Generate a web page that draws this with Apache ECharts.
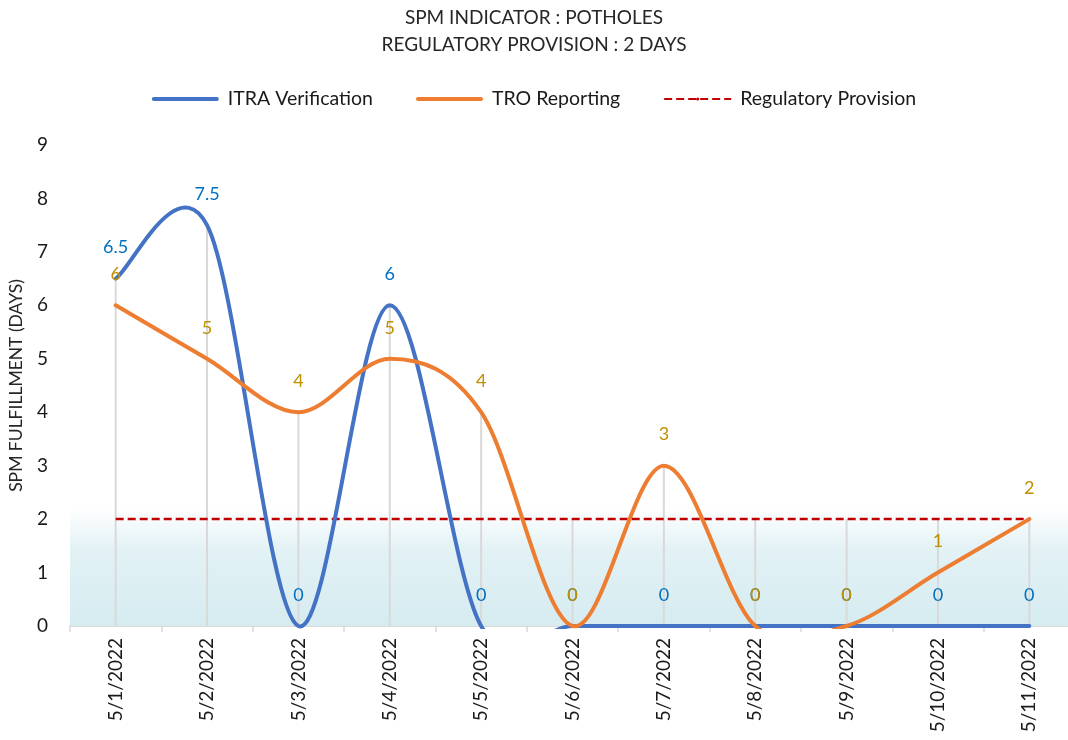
<!DOCTYPE html>
<html>
<head>
<meta charset="utf-8">
<title>SPM Indicator : Potholes</title>
<script src="https://cdn.jsdelivr.net/npm/echarts@6/dist/echarts.min.js"></script>
<style>
  html, body { margin: 0; padding: 0; background: #fff; }
  #chart { width: 1068px; height: 740px; }
</style>
</head>
<body>
<div id="chart"></div>
<script>
// data
const dates = ["5/1/2022", "5/2/2022", "5/3/2022", "5/4/2022", "5/5/2022", "5/6/2022",
  "5/7/2022", "5/8/2022", "5/9/2022", "5/10/2022", "5/11/2022"];
const itraVerification = [6.5, 7.5, 0, 6, 0, 0, 0, 0, 0, 0, 0];
const troReporting = [6, 5, 4, 5, 4, 0, 3, 0, 0, 1, 2];
const regulatoryProvision = [2, 2, 2, 2, 2, 2, 2, 2, 2, 2, 2];
const yMin = 0, yMax = 9, yStep = 1;
const bandTop = 2.2;

// drop lines go up to the highest value of every series at that date
const dropLines = dates.map((d, i) =>
  Math.max(itraVerification[i], troReporting[i], regulatoryProvision[i]));

const font = "Lato, 'Open Sans', sans-serif";

// excel style smoothed line (catmull-rom through the points), drawn on the axes
function smoothLine(name, values, color, labelColor) {
  return {
    name: name,
    type: "custom",
    clip: false,
    z: 4,
    color: color,
    itemStyle: { color: color },
    encode: { x: 0, y: 1 },
    data: values.map((v, i) => [i, v]),
    renderItem: function(params, api) {
      let children = [];
      if (params.dataIndex === 0) {
        let cs = params.coordSys;
        let pts = values.map((v, i) => api.coord([i, v]));
        let n = pts.length;
        let d = "M" + pts[0][0] + " " + pts[0][1];
        for (let i = 0; i < n - 1; i++) {
          let p0 = pts[Math.max(i - 1, 0)];
          let p1 = pts[i];
          let p2 = pts[i + 1];
          let p3 = pts[Math.min(i + 2, n - 1)];
          let c1x = p1[0] + (p2[0] - p0[0]) / 6;
          let c1y = p1[1] + (p2[1] - p0[1]) / 6;
          let c2x = p2[0] - (p3[0] - p1[0]) / 6;
          let c2y = p2[1] - (p3[1] - p1[1]) / 6;
          d += " C" + c1x + " " + c1y + " " + c2x + " " + c2y + " " + p2[0] + " " + p2[1];
        }
        children.push({
          type: "path",
          shape: { pathData: d },
          // plot area plus a few px so the line lying on zero keeps its full width
          clipPath: { type: "rect", shape: { x: cs.x, y: cs.y, width: cs.width, height: cs.height + 3 } },
          style: { fill: "none", stroke: color, lineWidth: 4, lineCap: "round", lineJoin: "round" }
        });
      }
      let p = api.coord([api.value(0), api.value(1)]);
      children.push({
        type: "text",
        x: p[0],
        y: p[1] - 31,
        z2: 10,
        style: {
          text: String(api.value(1)),
          fill: labelColor,
          font: "18px " + font,
          align: "center",
          verticalAlign: "middle"
        }
      });
      return { type: "group", children: children };
    }
  };
}

let chart = echarts.init(document.getElementById("chart"));

let option = {
  animation: false,
  title: {
    left: "center",
    top: -1,
    text: "SPM INDICATOR : POTHOLES\nREGULATORY PROVISION : 2 DAYS",
    textStyle: {
      fontFamily: font,
      fontSize: 19,
      fontWeight: "normal",
      color: "#262626",
      lineHeight: 27
    }
  },
  legend: {
    top: 84,
    left: "center",
    itemWidth: 67,
    itemHeight: 4,
    itemGap: 43,
    textStyle: { fontFamily: font, fontSize: 19.5, color: "#1a1a1a", padding: [0, 0, 0, 4] },
    data: [
      { name: "ITRA Verification", icon: "path://M2,0H65A2,2 0 0 1 65,4H2A2,2 0 0 1 2,0Z" },
      { name: "TRO Reporting", icon: "path://M2,0H65A2,2 0 0 1 65,4H2A2,2 0 0 1 2,0Z" },
      "Regulatory Provision"
    ]
  },
  grid: {
    left: 70,
    right: -7,
    top: 145,
    bottom: 114,
    outerBoundsMode: "none",
    containLabel: false
  },
  xAxis: {
    type: "category",
    data: dates,
    boundaryGap: true,
    axisLine: { lineStyle: { color: "#d9d9d9", width: 2 } },
    axisTick: { show: true, length: 6, lineStyle: { color: "#d9d9d9", width: 1.5 } },
    axisLabel: {
      interval: 0,
      rotate: 90,
      margin: 12,
      fontFamily: font,
      fontSize: 19,
      color: "#1a1a1a"
    },
    splitLine: { show: false }
  },
  yAxis: {
    type: "value",
    min: yMin,
    max: yMax,
    interval: yStep,
    name: "SPM FULFILLMENT (DAYS)",
    nameLocation: "middle",
    nameGap: 45,
    nameRotate: 90,
    nameTextStyle: { fontFamily: font, fontSize: 17.5, color: "#262626" },
    axisLine: { show: false },
    axisTick: { show: false },
    splitLine: { show: false },
    axisLabel: { margin: 22, fontFamily: font, fontSize: 19, color: "#1a1a1a" }
  },
  series: [
    {
      // shaded band under the provision line
      type: "line",
      data: [],
      z: 0,
      silent: true,
      markArea: {
        silent: true,
        itemStyle: {
          color: {
            type: "linear", x: 0, y: 0, x2: 0, y2: 1,
            colorStops: [
              { offset: 0, color: "rgba(214,236,241,0)" },
              { offset: 0.35, color: "rgba(214,236,241,0.7)" },
              { offset: 1, color: "#d6ecf1" }
            ]
          }
        },
        data: [[{ yAxis: 0 }, { yAxis: bandTop }]]
      }
    },
    {
      // drop lines
      type: "bar",
      data: dropLines,
      barWidth: 2,
      z: 1,
      silent: true,
      itemStyle: { color: "#d9d9d9" }
    },
    {
      name: "Regulatory Provision",
      type: "line",
      data: regulatoryProvision,
      symbol: "none",
      z: 3,
      color: "#c00000",
      lineStyle: { color: "#c00000", width: 2.5, type: [8, 4] }
    },
    smoothLine("ITRA Verification", itraVerification, "#4472c4", "#0070c0"),
    smoothLine("TRO Reporting", troReporting, "#ed7d31", "#bf9000")
  ]
};

chart.setOption(option);

window.addEventListener("resize", function() {
  chart.resize();
});
</script>
</body>
</html>
